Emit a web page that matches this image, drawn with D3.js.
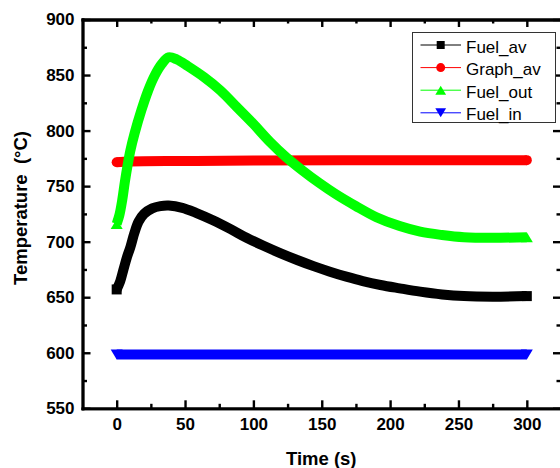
<!DOCTYPE html>
<html>
<head>
<meta charset="utf-8">
<script src="https://cdn.jsdelivr.net/npm/d3@7"></script>
<style>
  body { margin: 0; background: #fff; }
  svg { display: block; font-family: "Liberation Sans", Arial, sans-serif; }
</style>
</head>
<body>
<div id="chart"></div>
<script>
// values
const fuelAvT = [0, 2.5, 5, 7.5, 10, 13, 16, 20, 26, 32, 38, 48, 58, 70, 83, 95, 107, 120, 132, 144, 156, 168, 180, 193, 207, 222, 238, 254, 275, 300];
const fuelAv  = [657, 664, 675, 686, 695, 708, 718, 725, 730, 732, 732.5, 730.5, 726, 719.5, 711.5, 703.5, 696.5, 689.5, 683.5, 678, 673, 668.5, 664.5, 661, 658, 655, 652.5, 651, 650.5, 651];

const graphAvT = [0, 10, 50, 100, 200, 300];
const graphAv  = [771.5, 772.2, 772.6, 773, 773.3, 773.4];

const fuelOutT = [0, 2, 4, 6, 8, 10, 13, 18, 23, 28, 33, 38, 44, 52, 64, 76, 88, 100, 112, 124, 136, 148, 160, 175, 190, 207, 222, 238, 254, 275, 300];
const fuelOut  = [716, 724, 737, 754, 769, 782, 797, 818, 836, 850, 860, 866, 864, 858, 848, 836, 821, 806, 790, 776, 764, 753, 743, 732, 722, 714, 709, 706, 704, 703.5, 704];

const fuelInT = [0, 300];
const fuelIn  = [598.5, 598.5];

const seriesNames = ["Fuel_av", "Graph_av", "Fuel_out", "Fuel_in"];
const seriesColors = ["#000000", "#ff0000", "#00ff00", "#0000ff"];
const seriesShapes = ["square", "circle", "triangleUp", "triangleDown"];

const xTicks = [0, 50, 100, 150, 200, 250, 300];
const xMinor = [25, 75, 125, 175, 225, 275];
const yTicks = [550, 600, 650, 700, 750, 800, 850, 900];
const yMinor = [575, 625, 675, 725, 775, 825, 875];

const width = 560, height = 468;
const plotLeft = 82.5, plotRight = 561, plotTop = 19.5, plotBottom = 408.3;

const svg = d3.select("#chart").append("svg")
    .attr("width", width)
    .attr("height", height);

const x = d3.scaleLinear().domain([-25, 325]).range([plotLeft, plotRight]);
const y = d3.scaleLinear().domain([550, 900]).range([plotBottom, plotTop]);

// marker shape drawn as a path around (cx, cy)
function markerPath(shape, cx, cy, s) {
    if (shape === "square") {
        return `M${cx - s / 2},${cy - s / 2}h${s}v${s}h${-s}Z`;
    }
    if (shape === "circle") {
        let r = s / 2;
        return `M${cx - r},${cy}a${r},${r} 0 1,0 ${2 * r},0a${r},${r} 0 1,0 ${-2 * r},0Z`;
    }
    let w = s * 1.2, h = s;
    if (shape === "triangleUp") {
        return `M${cx - w / 2},${cy + h / 2}L${cx + w / 2},${cy + h / 2}L${cx},${cy - h / 2}Z`;
    }
    return `M${cx - w / 2},${cy - h / 2}L${cx + w / 2},${cy - h / 2}L${cx},${cy + h / 2}Z`;
}

const allSeries = [
    {t: fuelAvT, v: fuelAv},
    {t: graphAvT, v: graphAv},
    {t: fuelOutT, v: fuelOut},
    {t: fuelInT, v: fuelIn}
];

const line = d3.line()
    .x(d => x(d[0]))
    .y(d => y(d[1]))
    .curve(d3.curveCatmullRom.alpha(0.5));

// the dense markers in the original merge into thick bands
let plot = svg.append("g");
allSeries.forEach(function(s, i) {
    let pts = s.t.map((t, j) => [t, s.v[j]]);
    plot.append("path")
        .attr("d", line(pts))
        .attr("fill", "none")
        .attr("stroke", seriesColors[i])
        .attr("stroke-width", 10)
        .attr("stroke-linejoin", "round");
    [pts[0], pts[pts.length - 1]].forEach(function(p) {
        plot.append("path")
            .attr("d", markerPath(seriesShapes[i], x(p[0]), y(p[1]), 10))
            .attr("fill", seriesColors[i]);
    });
});

// axes, ticks pointing inward
function styleAxis(g) {
    g.attr("font-family", "'Liberation Sans', Arial, sans-serif")
        .attr("font-size", 17)
        .attr("font-weight", "bold");
    g.select(".domain").attr("stroke-width", 2.8).attr("stroke-linecap", "square");
    g.selectAll(".tick line").attr("stroke-width", 2.4);
    g.selectAll(".tick text").attr("fill", "#000");
}

svg.append("g")
    .attr("transform", `translate(0,${plotBottom})`)
    .call(d3.axisBottom(x).tickValues(xTicks).tickSizeInner(-8).tickSizeOuter(0).tickPadding(10))
    .call(styleAxis);
svg.append("g")
    .attr("transform", `translate(0,${plotBottom})`)
    .call(d3.axisBottom(x).tickValues(xMinor).tickSizeInner(-4.5).tickSizeOuter(0).tickFormat(""))
    .call(styleAxis);
svg.append("g")
    .attr("transform", `translate(0,${plotTop})`)
    .call(d3.axisTop(x).tickValues(xTicks).tickSizeInner(-7.5).tickSizeOuter(0).tickFormat(""))
    .call(styleAxis);
svg.append("g")
    .attr("transform", `translate(0,${plotTop})`)
    .call(d3.axisTop(x).tickValues(xMinor).tickSizeInner(-4).tickSizeOuter(0).tickFormat(""))
    .call(styleAxis);

svg.append("g")
    .attr("transform", `translate(${plotLeft},0)`)
    .call(d3.axisLeft(y).tickValues(yTicks).tickSizeInner(-8).tickSizeOuter(0).tickPadding(8))
    .call(styleAxis);
svg.append("g")
    .attr("transform", `translate(${plotLeft},0)`)
    .call(d3.axisLeft(y).tickValues(yMinor).tickSizeInner(-4.5).tickSizeOuter(0).tickFormat(""))
    .call(styleAxis);
svg.append("g")
    .attr("transform", `translate(${plotRight},0)`)
    .call(d3.axisRight(y).tickValues(yTicks).tickSizeInner(-8).tickSizeOuter(0).tickFormat(""))
    .call(styleAxis);
svg.append("g")
    .attr("transform", `translate(${plotRight},0)`)
    .call(d3.axisRight(y).tickValues(yMinor).tickSizeInner(-4.5).tickSizeOuter(0).tickFormat(""))
    .call(styleAxis);

// axis titles
svg.append("text")
    .attr("x", (plotLeft + 560) / 2)
    .attr("y", 464.5)
    .attr("text-anchor", "middle")
    .attr("font-size", 18.5)
    .attr("font-weight", "bold")
    .text("Time (s)");

svg.append("text")
    .attr("transform", "translate(26.5,208) rotate(-90)")
    .attr("text-anchor", "middle")
    .attr("font-size", 18.5)
    .attr("font-weight", "bold")
    .style("white-space", "pre")
    .text("Temperature  (°C)");

// legend
let legend = svg.append("g");
legend.append("rect")
    .attr("x", 412.5)
    .attr("y", 32.5)
    .attr("width", 143)
    .attr("height", 90)
    .attr("fill", "#fff")
    .attr("stroke", "#333")
    .attr("stroke-width", 1);

seriesNames.forEach(function(name, i) {
    let cy = 45 + i * 22.6;
    legend.append("line")
        .attr("x1", 420.5).attr("x2", 461)
        .attr("y1", cy).attr("y2", cy)
        .attr("stroke", seriesColors[i])
        .attr("stroke-width", 1);
    legend.append("path")
        .attr("d", markerPath(seriesShapes[i], 440.7, cy, i === 0 ? 8 : 9))
        .attr("fill", seriesColors[i]);
    legend.append("text")
        .attr("x", 466)
        .attr("y", cy + 7.5)
        .attr("font-size", 17)
        .text(name);
});
</script>
</body>
</html>
